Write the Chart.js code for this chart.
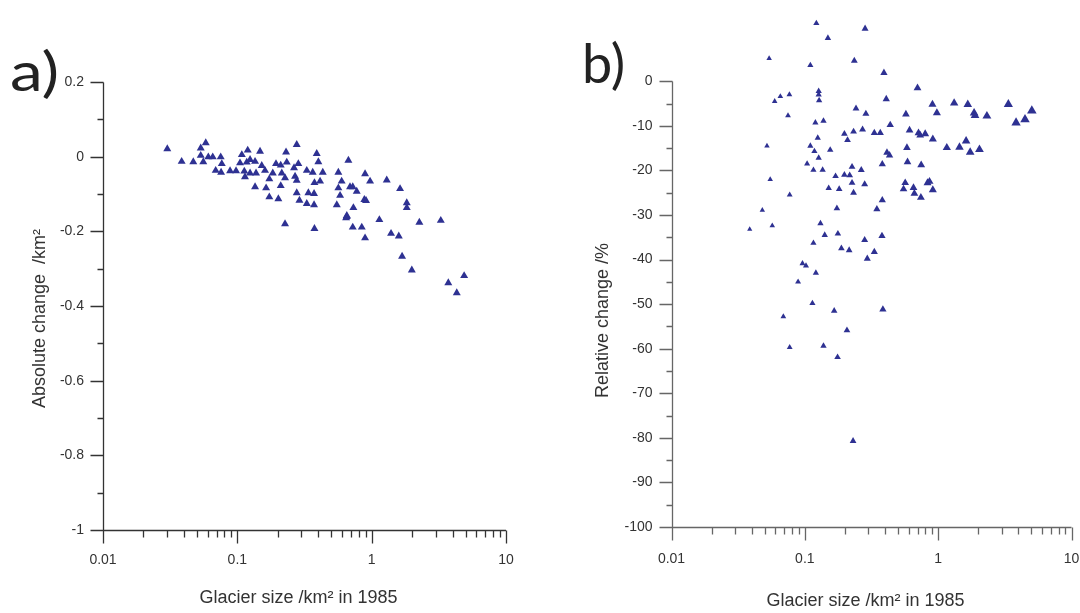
<!DOCTYPE html>
<html>
<head>
<meta charset="utf-8">
<script src="https://cdn.jsdelivr.net/npm/chart.js@4.4.1/dist/chart.umd.min.js"></script>
<style>
  body { margin: 0; background: #fff; width: 1080px; height: 613px; overflow: hidden; position: relative; }
  .panel { position: absolute; top: 0; height: 613px; }
  .tag { position: absolute; font-family: "Lato", "DejaVu Sans", sans-serif; font-size: 54px; line-height: 54px; color: #222; transform-origin: left top; }
</style>
</head>
<body>
<div class="panel" style="left:0; width:540px"><canvas id="grafA"></canvas></div>
<div class="panel" style="left:540px; width:560px"><canvas id="grafB"></canvas></div>
<div class="tag" style="left:10px; top:44px; transform: scaleX(1.22)">a)</div>
<div class="tag" style="left:582px; top:36px">b)</div>
<script>
// a) cambio absoluto vs tamano (km2)
const tamanoA = [0.0301, 0.0385, 0.047, 0.0534, 0.0582, 0.0534, 0.0558, 0.0608, 0.0656, 0.0752,
  0.0766, 0.069, 0.0757, 0.0883, 0.0978, 0.108, 0.1047, 0.1195, 0.1175, 0.1244,
  0.1355, 0.1127, 0.114, 0.1244, 0.1378, 0.1476, 0.152, 0.1607, 0.173, 0.1836,
  0.194, 0.2104, 0.2142, 0.2305, 0.2333, 0.2265, 0.2768, 0.2845, 0.2643, 0.3288,
  0.364, 0.39, 0.401, 0.4325, 0.269, 0.2768, 0.1355, 0.1637, 0.2104, 0.173,
  0.202, 0.2768, 0.29, 0.3288, 0.338, 0.3725, 0.375, 0.413, 0.3725, 0.565,
  0.598, 0.565, 0.582, 0.55, 0.671, 0.653, 0.2265, 0.375, 0.893, 0.973,
  1.295, 1.627, 0.69, 0.723, 0.774, 0.882, 0.908, 0.731, 0.653, 0.645,
  1.141, 1.825, 1.825, 2.265, 3.27, 0.723, 0.844, 0.893, 1.394, 1.592,
  1.684, 1.99, 4.88, 3.72, 4.3]
const cambioA = [0.021, -0.013, -0.014, 0.023, 0.037, 0.003, -0.014, -0.001, -0.001, -0.001,
  -0.019, -0.037, -0.042, -0.038, -0.038, 0.005, -0.017, 0.017, -0.015, -0.008,
  -0.013, -0.039, -0.054, -0.044, -0.044, 0.014, -0.024, -0.037, -0.06, -0.044,
  -0.019, -0.023, -0.044, 0.012, -0.015, -0.057, 0.032, -0.019, -0.03, -0.037,
  -0.042, 0.008, -0.014, -0.042, -0.053, -0.064, -0.081, -0.084, -0.078, -0.108,
  -0.113, -0.097, -0.117, -0.126, -0.097, -0.099, -0.07, -0.066, -0.129, -0.042,
  -0.066, -0.084, -0.104, -0.129, -0.01, -0.161, -0.18, -0.193, -0.046, -0.066,
  -0.063, -0.086, -0.081, -0.081, -0.093, -0.115, -0.118, -0.137, -0.158, -0.164,
  -0.169, -0.124, -0.137, -0.176, -0.171, -0.189, -0.189, -0.218, -0.206, -0.213,
  -0.267, -0.304, -0.319, -0.338, -0.365]

// b) cambio relativo (%) vs tamano
const tamanoB = [0.122, 0.283, 0.149, 0.054, 0.11, 0.235, 0.392, 0.7, 0.127, 0.127,
  0.128, 0.0655, 0.0766, 0.0594, 0.408, 0.242, 0.287, 0.573, 0.0748, 0.12,
  0.138, 0.437, 0.198, 0.232, 0.271, 0.209, 0.332, 0.368, 0.61, 0.712,
  0.733, 0.799, 0.125, 0.052, 0.11, 0.118, 0.155, 0.127, 0.413, 0.432,
  0.583, 0.104, 0.381, 0.589, 0.746, 0.116, 0.136, 0.226, 0.265, 0.17,
  0.198, 0.217, 0.055, 0.226, 0.151, 0.181, 0.281, 0.232, 0.566, 0.55,
  0.653, 0.663, 0.742, 0.832, 0.077, 0.381, 0.048, 0.174, 0.347, 0.0386,
  0.057, 0.131, 0.141, 0.177, 0.116, 0.281, 0.379, 0.188, 0.215, 0.332,
  0.294, 0.096, 0.102, 0.121, 0.089, 0.114, 0.166, 0.385, 0.069, 0.207,
  0.077, 0.138, 0.176, 0.23, 0.906, 1.318, 1.668, 3.36, 0.978, 1.86,
  1.89, 2.32, 5.04, 4.48, 3.84, 0.912, 1.161, 1.445, 1.62, 1.738,
  2.04, 0.861, 0.912]
const cambioB = [13.0, 11.8, 9.7, 5.1, 3.6, 4.6, 1.9, -1.5, -2.2, -3.0,
  -4.3, -3.4, -3.0, -4.5, -4.0, -6.1, -7.3, -7.4, -7.7, -9.3,
  -8.9, -9.8, -11.8, -11.3, -10.8, -13.2, -11.6, -11.6, -11.0, -11.6,
  -12.1, -11.8, -12.7, -14.5, -14.5, -15.7, -15.4, -17.2, -16.0, -16.6,
  -14.9, -18.5, -18.6, -18.1, -18.8, -19.9, -19.9, -19.2, -19.9, -21.3,
  -21.0, -21.1, -22.0, -22.8, -24.0, -24.2, -23.1, -25.0, -22.8, -24.2,
  -23.9, -25.2, -26.1, -22.8, -25.5, -26.7, -28.9, -28.5, -28.7, -33.2,
  -32.4, -31.9, -34.5, -34.2, -36.3, -35.6, -34.7, -37.5, -37.9, -38.3,
  -39.8, -40.9, -41.4, -43.0, -45.0, -49.8, -51.5, -51.2, -52.8, -55.9,
  -59.7, -59.4, -61.9, -80.7, -5.2, -4.9, -5.2, -5.2, -7.1, -7.1,
  -7.7, -7.8, -6.6, -8.6, -9.3, -13.0, -14.9, -14.8, -13.4, -15.9,
  -15.3, -22.5, -24.4]

const ticksX = [0.01, 0.1, 1, 10]
const etiquetasX = ['0.01', '0.1', '1', '10']
const ticksYA = [0.2, 0, -0.2, -0.4, -0.6, -0.8, -1]
const ticksYB = [0, -10, -20, -30, -40, -50, -60, -70, -80, -90, -100]

const azul = '#2e3192'
const fuente = '"Liberation Sans", Arial, sans-serif'
const tituloX = 'Glacier size /km² in 1985'

// ejes dibujados a mano: linea, ticks mayores y menores, titulos
const ejes = {
  id: 'ejes',
  afterDraw(chart, args, op) {
    const ctx = chart.ctx
    const sx = chart.scales.x, sy = chart.scales.y
    const izq = Math.round(sx.left) + 0.5
    const abajo = Math.round(sy.bottom) + 0.5
    const arriba = Math.round(sy.getPixelForValue(op.tope)) + 0.5
    ctx.save()
    ctx.strokeStyle = op.color
    ctx.lineWidth = 1.3
    ctx.beginPath()
    ctx.moveTo(izq, arriba)
    ctx.lineTo(izq, abajo)
    ctx.moveTo(izq, abajo)
    ctx.lineTo(sx.right, abajo)
    sy.ticks.forEach(t => {
      let p = Math.round(sy.getPixelForValue(t.value)) + 0.5
      ctx.moveTo(izq - 13, p)
      ctx.lineTo(izq, p)
      let m = t.value - op.paso / 2
      if (m > sy.min) {
        p = Math.round(sy.getPixelForValue(m)) + 0.5
        ctx.moveTo(izq - 6, p)
        ctx.lineTo(izq, p)
      }
    })
    sx.ticks.forEach(t => {
      let p = Math.round(sx.getPixelForValue(t.value)) + 0.5
      ctx.moveTo(p, abajo)
      ctx.lineTo(p, abajo + 13)
      if (t.value < sx.max) {
        for (let k = 2; k <= 9; k++) {
          p = Math.round(sx.getPixelForValue(k * t.value)) + 0.5
          ctx.moveTo(p, abajo)
          ctx.lineTo(p, abajo + 7)
        }
      }
    })
    ctx.stroke()

    ctx.fillStyle = '#333'
    ctx.font = '18px ' + fuente
    ctx.textAlign = 'center'
    ctx.textBaseline = 'middle'
    ctx.fillText(tituloX, (sx.left + sx.right) / 2 - 6, op.yTitulo)
    ctx.translate(op.xTitulo, (arriba + abajo) / 2 + op.dyTitulo)
    ctx.rotate(-Math.PI / 2)
    ctx.fillText(op.tituloY, 0, 0)
    ctx.restore()
  }
}

function hacerGrafico(id, tam, cambio, cfg) {
  const puntos = tam.map((x, i) => ({ x: x, y: cambio[i] }))
  return new Chart(document.getElementById(id), {
    type: 'scatter',
    data: {
      datasets: [{
        data: puntos,
        pointStyle: 'triangle',
        backgroundColor: azul,
        borderWidth: 0,
        pointRadius: cfg.radio
      }]
    },
    options: {
      responsive: true,
      maintainAspectRatio: false,
      animation: false,
      events: [],
      layout: { padding: cfg.padding },
      plugins: {
        legend: { display: false },
        tooltip: { enabled: false },
        ejes: {
          color: cfg.colorEje, tope: cfg.tope, paso: cfg.paso,
          tituloY: cfg.tituloY, xTitulo: cfg.xTitulo, yTitulo: cfg.yTitulo, dyTitulo: cfg.dyTitulo
        }
      },
      scales: {
        x: {
          type: 'logarithmic',
          min: 0.01,
          max: 10,
          afterBuildTicks: s => { s.ticks = ticksX.map(v => ({ value: v })) },
          afterFit: s => { s.height = cfg.altoX },
          grid: { display: false, drawTicks: true, tickLength: 13 },
          border: { display: false },
          ticks: {
            autoSkip: false, maxRotation: 0, padding: cfg.padX,
            color: '#333', font: { family: fuente, size: 14 },
            callback: (v) => etiquetasX[ticksX.indexOf(v)] ?? ''
          }
        },
        y: {
          min: cfg.minY,
          max: cfg.maxY,
          afterBuildTicks: s => { s.ticks = cfg.ticksY.map(v => ({ value: v })) },
          afterFit: s => { s.width = cfg.anchoY },
          grid: { display: false, drawTicks: true, tickLength: 13 },
          border: { display: false },
          ticks: {
            padding: 6, color: '#333', font: { family: fuente, size: 14 },
            callback: (v) => String(Math.round(v * 10) / 10)
          }
        }
      }
    },
    plugins: [ejes]
  })
}

hacerGrafico('grafA', tamanoA, cambioA, {
  radio: 4.6,
  padding: { top: 82, right: 34, left: 0, bottom: 0 },
  colorEje: '#333',
  tope: 0.2, paso: 0.2,
  minY: -1, maxY: 0.2, ticksY: ticksYA,
  altoX: 83, anchoY: 103, padX: 9,
  tituloY: 'Absolute change  /km²', xTitulo: 40, yTitulo: 598, dyTitulo: 12
})

hacerGrafico('grafB', tamanoB, cambioB, {
  radio: ctx => 4.7 + 1.2 * Math.log10(ctx.raw.x),
  padding: { top: 13, right: 28.5, left: 0, bottom: 0 },
  colorEje: '#666',
  tope: 0, paso: 10,
  minY: -100, maxY: 15, ticksY: ticksYB,
  altoX: 86, anchoY: 131.5, padX: 11,
  tituloY: 'Relative change /%', xTitulo: 63, yTitulo: 601, dyTitulo: 16
})
</script>
</body>
</html>
